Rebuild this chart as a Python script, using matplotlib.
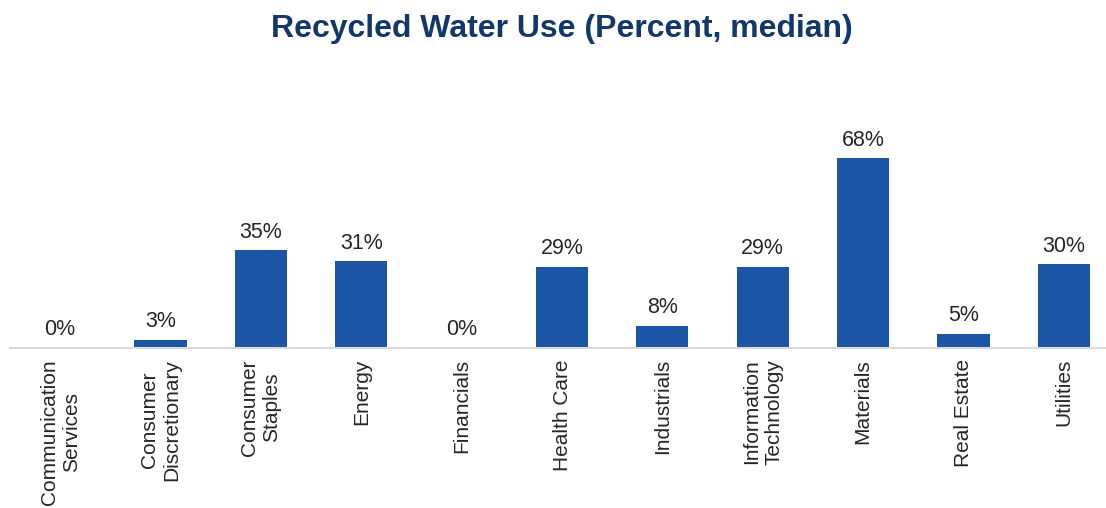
import matplotlib
matplotlib.use("Agg")
import matplotlib.pyplot as plt

categories = ["Communication\nServices", "Consumer\nDiscretionary", "Consumer\nStaples", "Energy",
              "Financials", "Health Care", "Industrials", "Information\nTechnology",
              "Materials", "Real Estate", "Utilities"]
values = [0, 3, 35, 31, 0, 29, 8, 29, 68, 5, 30]
labels = ["0%", "3%", "35%", "31%", "0%", "29%", "8%", "29%", "68%", "5%", "30%"]
title = "Recycled Water Use (Percent, median)"

plt.rcParams['font.family'] = ['Liberation Sans', 'DejaVu Sans']

fig = plt.figure(figsize=(11.06, 5.08), dpi=100)
ax = fig.add_axes([10/1106, 160/508, 1104/1106, 268/508])
x = list(range(len(categories)))
bars = ax.bar(x, values, width=0.52, color="#1A56A5", zorder=2)
ax.set_xlim(-0.5, 10.5)
ax.set_ylim(0, 96)
for b, lab in zip(bars, labels):
    ax.annotate(lab, (b.get_x() + b.get_width()/2, b.get_height()), xytext=(0, 5.5),
                textcoords="offset points", ha="center", va="bottom", fontsize=15.5, color="#262626")
ax.set_xticks(x)
ax.set_xticklabels(categories, rotation=90, fontsize=15, color="#262626",
                   ha="center", va="top", multialignment="center", linespacing=1.2)
ax.tick_params(axis="x", length=0, pad=8)
ax.set_yticks([])
for s in ["top", "right", "left"]:
    ax.spines[s].set_visible(False)
ax.spines["bottom"].set_color("#D9D9D9")
ax.spines["bottom"].set_linewidth(1.5)
fig.text(562/1106, 1 - 29/508, title, ha="center", va="center", fontsize=23,
         fontweight="bold", color="#12386B")
fig.savefig("out.png", dpi=100)
